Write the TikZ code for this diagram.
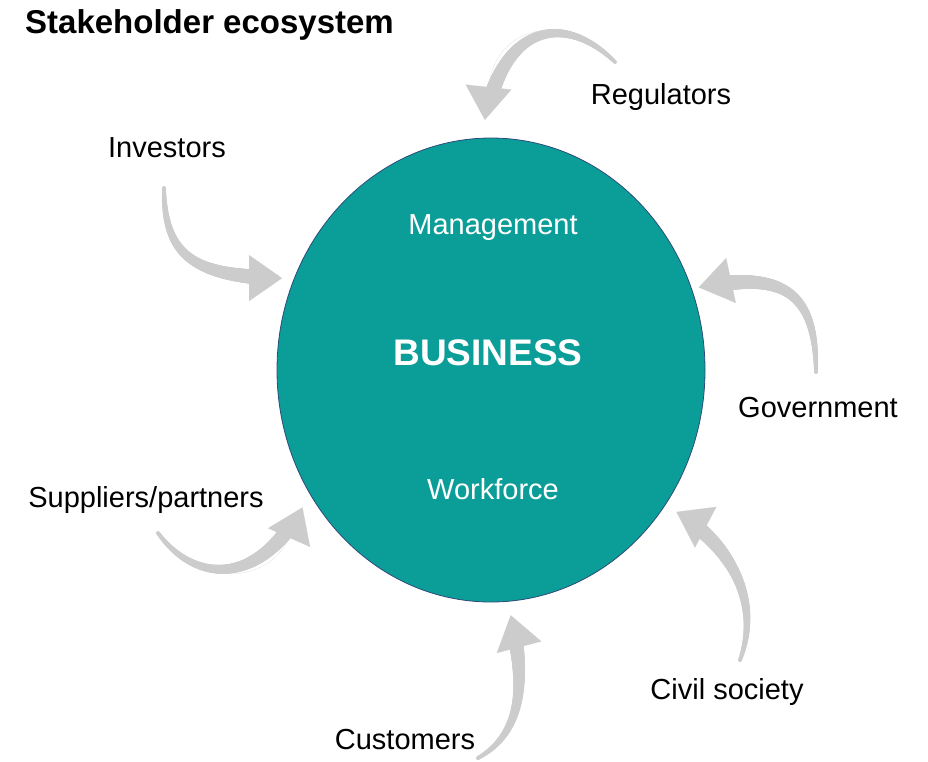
\documentclass[tikz,border=0pt]{standalone}
\usepackage{fontspec}
\setmainfont{Liberation Sans}
\usetikzlibrary{positioning,shapes.geometric,arrows.meta,decorations.markings}
\begin{document}
\begin{tikzpicture}[x=1pt,y=-1pt]
  \definecolor{bizteal}{HTML}{0B9E98}
  \definecolor{bizedge}{HTML}{2E4A7A}
  \definecolor{arrowgray}{HTML}{CCCCCC}
  \tikzstyle{stakeholder} = [font=\fontsize{29}{34}\selectfont, text=black, inner sep=0pt]
  \tikzstyle{bizlabel}    = [stakeholder, text=white]
  \tikzstyle{connector}   = [arrowgray, line width=0.1pt, -{Triangle[width=46pt,length=33pt]}]
  % shaft gets wider from tail to head
  \tikzset{tapered/.style={postaction=decorate, decoration={markings,
    mark=between positions 0 and #1 step 1pt with {%
      \pgfmathsetmacro{\shaftr}{2+7*\pgfkeysvalueof{/pgf/decoration/mark info/distance from start}/\pgfdecoratedpathlength}%
      \fill [arrowgray] (0,0) circle (\shaftr pt);}}}}
  \newcommand{\stakearrow}[5]{%
    \draw [connector, #1] (#2) .. controls #3 and #4 .. (#5);}

  \useasboundingbox (0,0) rectangle (928,761);

  \node [anchor=west, inner sep=0pt, font=\fontsize{33}{38}\selectfont\bfseries] (title) at (25,25) {Stakeholder ecosystem};

  \node [ellipse, draw=bizedge, line width=0.8pt, fill=bizteal, minimum width=428pt, minimum height=464pt, inner sep=0pt] (business) at (491,370) {};
  \node [bizlabel, font=\fontsize{37}{42}\selectfont\bfseries] (bizname)    at (488,353) {BUSINESS};
  \node [bizlabel]                                             (management) at (493,228) {Management};
  \node [bizlabel]                                             (workforce)  at (493,489) {Workforce};

  \node [stakeholder] (investors)  at (167,148) {Investors};
  \node [stakeholder] (regulators) at (661,97)  {Regulators};
  \node [stakeholder] (government) at (818,408) {Government};
  \node [stakeholder] (suppliers)  at (146,500) {Suppliers/partners};
  \node [stakeholder] (customers)  at (405,740) {Customers};
  \node [stakeholder] (civil)      at (727,692) {Civil society};

  % arrow tails
  \coordinate (regulatorstail) at (615,62);
  \coordinate (investorstail)  at (164,188);
  \coordinate (governmenttail) at (816,372);
  \coordinate (supplierstail)  at (158,533);
  \coordinate (customerstail)  at (478,758);
  \coordinate (civiltail)      at (740,660);

  \stakearrow{shorten >=18pt, tapered=-46pt}{regulatorstail}{(560,8)}{(495,28)}{business.92.5}
  \stakearrow{shorten >=12pt, tapered=-40pt}{investorstail}{(164,262)}{(200,278)}{business.155.5}
  \stakearrow{shorten >=7pt,  tapered=-35pt}{governmenttail}{(816,288)}{(780,270)}{business.22.9}
  \stakearrow{shorten >=16pt, tapered=-44pt}{supplierstail}{(198,588)}{(268,585)}{business.214.4}
  \stakearrow{shorten >=14pt, tapered=-42pt}{customerstail}{(528,730)}{(525,670)}{business.274.4}
  \stakearrow{shorten >=13pt, tapered=-41pt}{civiltail}{(762,600)}{(730,540)}{business.322.5}
\end{tikzpicture}
\end{document}
